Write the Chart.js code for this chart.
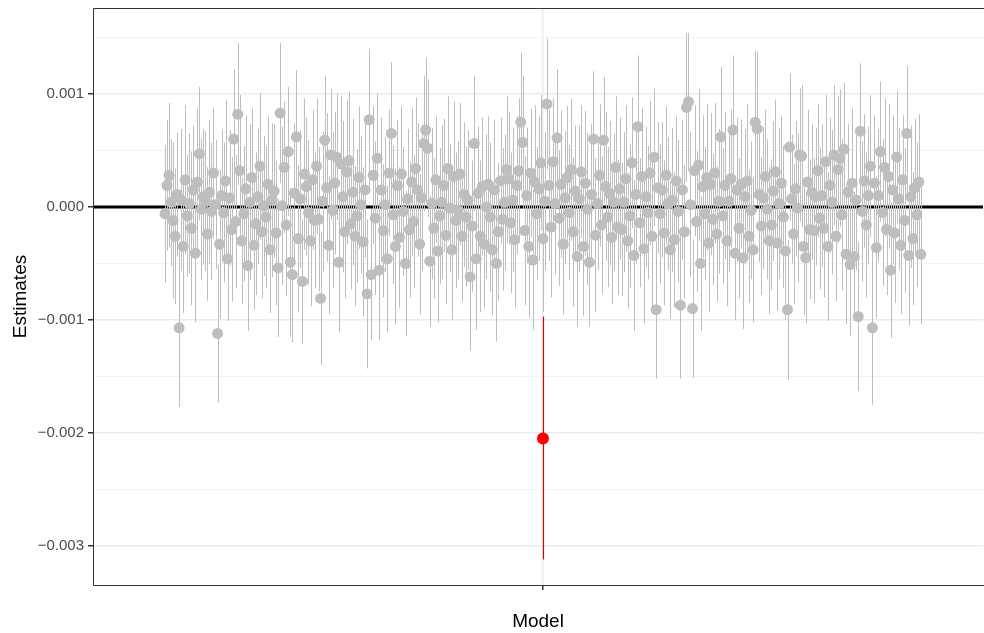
<!DOCTYPE html>
<html>
<head>
<meta charset="utf-8">
<script src="https://cdn.jsdelivr.net/npm/chart.js@4.4.0/dist/chart.umd.min.js"></script>
<style>
html, body { margin: 0; padding: 0; background: #fff; overflow: hidden; }
</style>
</head>
<body>
<canvas id="chart" width="984" height="633"></canvas>
<script>
// model estimates, in units of 1e-4
const UNIT = 1e-4;
const estimates = [
  -0.6, 1.9, 2.8, 0.4, -1.2, -2.6, 1.1, -10.7, 0.6, -3.5, 2.4, -0.8, 0.3, -1.9, 1.5, -4.1, 2.2, 4.7, -0.2, 0.9, 0.5, -2.4, 1.3, -0.4, 3.0,
  0.2, -11.2, -3.3, 1.0, -0.5, 2.3, -4.6, 0.8, -2.0, 6.0, -1.3, 8.2, 3.2, -3.0, -0.6, 1.6, -5.2, 0.4, 2.6, -3.4, -1.5, 0.9, 3.6, -2.2, 0.1,
  -0.9, 2.0, -3.8, 0.6, 1.4, -2.3, -5.4, 8.3, 0.1, 3.5, -1.6, 4.9, -4.9, -6.0, 1.2, 6.2, -2.8, 0.7, -6.6, 2.9, 1.8, -0.5, -3.0, 2.4, -1.2,
  3.6, -1.1, -8.1, 0.5, 5.9, 1.7, -3.4, 4.6, -0.3, 2.1, 4.4, -4.9, 3.8, 0.9, -2.2, 3.1, 4.1, -1.5, 1.3, -2.6, -0.8, 2.6, 0.2, -3.1, 1.5,
  -7.7, 7.7, -6.0, 2.8, -1.0, 4.3, -5.6, 1.5, -2.1, 0.2, -4.6, 3.0, 6.5, -0.7, -3.5, 1.9, -2.7, 2.9, -0.4, -5.0, 0.7, -2.0, 2.2, -1.3, 3.4,
  1.5, -3.3, 0.8, 5.6, 6.8, 5.2, -4.8, 0.3, -1.9, 2.4, -3.9, -0.8, 0.4, 1.9, -2.5, 3.4, -0.1, -3.8, 2.7, -1.2, -0.3, 2.9, -2.6, 1.1, -0.9,
  0.6, -6.2, -1.7, 5.6, -4.6, 1.2, -2.6, 1.8, -3.3, 0.0, 2.0, -0.9, -3.8, 1.5, -5.0, -2.2, 2.3, -1.1, 0.4, 3.3, 2.5, -1.4, 0.6, -2.9, 1.9,
  3.2, 7.5, 5.7, -2.1, 1.0, -3.5, 3.0, -4.7, 2.2, -0.6, 1.6, 3.9, -2.8, 0.5, 9.1, 1.9, -1.8, 4.0, 0.3, 6.1, -1.0, 2.0, -3.3, 0.8, 2.6,
  -0.5, 3.3, -2.2, 1.4, -4.4, 0.7, 3.1, -3.5, 2.1, -0.2, -4.9, 1.1, 6.0, -2.5, 0.3, 2.8, -1.6, 5.9, 1.8, -0.9, 1.2, -2.7, 0.4, 3.5, -1.8,
  1.6, -2.0, 0.4, 2.5, -3.0, -0.8, 3.9, -4.3, 1.1, 7.1, -1.4, 2.7, -3.7, 0.9, -0.5, 3.0, -2.6, 4.4, -9.1, 1.7, -0.6, 1.5, -2.3, 2.8, 0.3,
  -3.8, 0.6, -2.9, 2.3, -0.4, -8.7, 1.5, -2.2, 8.8, 9.3, 0.2, -9.0, 3.2, -1.3, 3.7, -5.0, 1.8, -0.6, 2.6, -3.2, 2.0, -1.1, 3.0, -2.4, 0.5,
  6.2, -0.8, 1.9, -3.0, 0.5, 2.5, 6.8, -4.1, 1.5, -1.9, 2.0, -4.5, 0.9, 2.3, -2.6, -0.3, -3.8, 7.5, 6.9, 1.1, -1.7, 0.8, 2.7, -0.2, -3.0,
  -1.6, 1.4, 3.1, -3.2, 0.3, 2.1, -0.9, -3.9, -9.1, 5.3, 0.7, -2.4, 1.6, -0.1, 4.6, 4.5, -3.5, -4.5, 2.2, -2.0, 1.3, -2.1, 0.9, 3.2, -1.0,
  1.0, -1.9, 4.0, -3.5, 1.9, 0.4, 4.6, -2.6, 3.3, 4.3, -0.7, 5.1, -4.2, 1.3, -5.1, 2.1, -4.4, 0.6, -9.7, 6.7, -0.4, 2.3, -1.6, 1.0, 3.6,
  -10.7, 2.1, -3.6, 1.0, 4.9, -0.5, 3.5, -2.0, 2.7, -5.6, 1.5, -2.3, 4.4, 0.7, -3.4, 2.4, -1.2, 6.5, -4.3, 0.9, -2.8, 1.7, -0.7, 2.2, -4.2
];
// half length of each interval, same units
const halfWidths = [
  6.1, 5.8, 6.4, 5.6, 6.9, 6.0, 5.5, 7.0, 6.3, 5.9, 6.6, 5.4, 6.2, 6.8, 5.7, 6.1, 6.5, 5.9, 6.3, 6.0, 6.2, 5.9, 6.4, 6.1, 5.8,
  5.7, 6.1, 6.6, 5.8, 6.2, 7.1, 5.5, 6.0, 6.4, 6.2, 5.9, 6.3, 6.7, 5.6, 6.0, 6.5, 5.8, 6.9, 6.1, 5.7, 6.3, 6.0, 6.5, 5.9, 6.2,
  6.3, 6.0, 5.6, 6.8, 5.9, 6.4, 6.1, 6.2, 7.0, 5.8, 6.3, 5.7, 6.6, 6.0, 6.2, 5.9, 6.5, 6.1, 5.5, 6.7, 6.1, 6.4, 5.8, 6.2, 6.0,
  6.0, 6.4, 5.9, 6.2, 5.7, 6.6, 6.1, 5.8, 6.9, 6.3, 5.6, 6.2, 6.0, 6.7, 5.9, 6.4, 6.1, 5.8, 6.5, 6.2, 5.9, 6.3, 6.1, 6.6, 6.0,
  6.6, 6.3, 5.8, 6.1, 6.8, 5.7, 6.2, 6.4, 5.9, 6.0, 6.5, 5.6, 6.3, 6.1, 6.9, 5.8, 6.2, 6.0, 5.7, 6.4, 6.2, 6.0, 6.5, 5.9, 6.3,
  5.9, 6.2, 6.5, 6.0, 6.4, 6.1, 5.8, 6.7, 6.2, 5.6, 6.3, 6.0, 6.8, 5.9, 6.1, 6.4, 5.7, 6.2, 6.6, 6.0, 6.1, 6.3, 5.8, 6.4, 6.2,
  6.2, 6.5, 5.8, 6.0, 6.3, 5.9, 6.7, 6.1, 5.7, 6.4, 6.0, 6.6, 5.8, 6.2, 6.9, 6.1, 5.6, 6.3, 6.0, 6.5, 5.9, 6.2, 6.4, 6.0, 6.1,
  6.4, 6.1, 5.9, 6.6, 6.0, 6.3, 5.7, 6.2, 6.8, 5.9, 6.4, 6.0, 6.5, 6.1, 5.8, 6.7, 6.2, 5.6, 6.3, 6.1, 6.0, 6.5, 6.2, 5.9, 6.3,
  6.0, 6.3, 6.6, 5.8, 6.2, 6.5, 5.9, 6.1, 6.4, 6.7, 5.7, 6.2, 6.0, 6.8, 5.9, 6.3, 6.1, 5.6, 6.6, 6.2, 6.4, 5.9, 6.1, 6.3, 6.0,
  6.3, 5.9, 6.2, 6.5, 6.0, 6.4, 5.8, 6.7, 6.1, 6.3, 5.7, 6.0, 6.6, 6.2, 5.9, 6.4, 6.8, 6.1, 6.1, 5.8, 6.2, 6.0, 6.4, 6.1, 5.9,
  6.1, 6.4, 6.0, 5.7, 6.3, 6.5, 6.2, 5.9, 6.6, 6.1, 6.4, 6.1, 5.8, 6.2, 6.7, 6.0, 6.3, 5.9, 6.5, 6.1, 6.3, 5.8, 6.2, 6.0, 6.4,
  6.2, 6.0, 6.5, 5.8, 6.3, 6.1, 6.6, 5.9, 6.4, 6.2, 5.7, 6.3, 6.0, 6.8, 5.9, 6.1, 6.4, 6.3, 6.8, 6.0, 6.1, 6.3, 5.9, 6.2, 6.5,
  5.8, 6.2, 6.4, 6.0, 6.7, 5.9, 6.3, 6.1, 6.2, 6.5, 5.7, 6.2, 6.0, 6.6, 5.9, 6.3, 6.1, 5.8, 6.4, 6.2, 6.0, 6.4, 6.1, 5.9, 6.3,
  6.3, 6.1, 5.9, 6.6, 6.0, 6.4, 6.2, 5.8, 6.5, 6.1, 6.7, 5.9, 6.2, 6.0, 6.3, 6.6, 5.7, 6.2, 6.6, 6.0, 6.2, 5.9, 6.4, 6.1, 6.3,
  6.8, 6.0, 6.3, 5.9, 6.2, 6.5, 6.1, 5.8, 6.4, 6.0, 6.6, 6.2, 5.9, 6.3, 6.1, 5.7, 6.4, 6.0, 6.2, 6.3, 5.9, 6.1, 6.4, 6.0, 6.2
];
// the highlighted model
const focalEstimate = -20.5;
const focalLow = -31.2;
const focalHigh = -9.7;

const yTickValues = [-0.003, -0.0025, -0.002, -0.0015, -0.001, -0.0005, 0, 0.0005, 0.001, 0.0015];
const xTickValues = [0];
const xTitle = 'Model';
const yTitle = 'Estimates';

// dodge width of the models around the single x category
const DODGE = 0.84;
const n = estimates.length;

const grayPoints = estimates.map((e, i) => ({
  x: -DODGE + 2 * DODGE * i / (n - 1),
  y: e * UNIT,
  lo: (e - halfWidths[i]) * UNIT,
  hi: (e + halfWidths[i]) * UNIT
}));
const redPoints = [{ x: 0, y: focalEstimate * UNIT, lo: focalLow * UNIT, hi: focalHigh * UNIT }];

const isMajor = v => Math.abs(v * 1000 - Math.round(v * 1000)) < 1e-6;

const errorBars = {
  id: 'errorBars',
  beforeDatasetsDraw(chart) {
    const { ctx, chartArea: a, scales: { x, y } } = chart;
    ctx.save();
    ctx.beginPath();
    ctx.rect(a.left, a.top, a.right - a.left, a.bottom - a.top);
    ctx.clip();
    // zero reference line
    const y0 = y.getPixelForValue(0);
    ctx.strokeStyle = '#000';
    ctx.lineWidth = 3;
    ctx.beginPath();
    ctx.moveTo(a.left, y0);
    ctx.lineTo(a.right, y0);
    ctx.stroke();
    // intervals, gray first then red
    const sets = chart.data.datasets.slice().reverse();
    sets.forEach(ds => {
      ctx.strokeStyle = ds.barColor;
      ctx.lineWidth = ds.barWidth;
      ds.data.forEach(p => {
        const px = Math.round(x.getPixelForValue(p.x)) + 0.5;
        ctx.beginPath();
        ctx.moveTo(px, y.getPixelForValue(p.lo));
        ctx.lineTo(px, y.getPixelForValue(p.hi));
        ctx.stroke();
      });
    });
    ctx.restore();
  },
  afterDraw(chart) {
    const { ctx, chartArea: a } = chart;
    ctx.save();
    ctx.strokeStyle = '#333333';
    ctx.lineWidth = 1;
    ctx.beginPath();
    ctx.moveTo(a.right + 5, a.top + 0.5);
    ctx.lineTo(a.left + 0.5, a.top + 0.5);
    ctx.lineTo(a.left + 0.5, a.bottom + 0.5);
    ctx.lineTo(a.right + 5, a.bottom + 0.5);
    ctx.stroke();
    ctx.restore();
  }
};

const font = 'Liberation Sans, Arial, Helvetica, sans-serif';

new Chart(document.getElementById('chart'), {
  type: 'scatter',
  data: {
    datasets: [
      {
        label: 'focal',
        data: redPoints,
        pointRadius: 6,
        pointBackgroundColor: '#FF0000',
        pointBorderWidth: 0,
        barColor: '#E00000',
        barWidth: 1.2
      },
      {
        label: 'models',
        data: grayPoints,
        pointRadius: 5.5,
        pointBackgroundColor: '#BEBEBE',
        pointBorderWidth: 0,
        barColor: '#BEBEBE',
        barWidth: 1
      }
    ]
  },
  options: {
    responsive: false,
    animation: false,
    devicePixelRatio: 1,
    layout: { autoPadding: false, padding: { left: 0, top: 8, right: 1, bottom: 0 } },
    plugins: { legend: { display: false }, tooltip: { enabled: false } },
    scales: {
      x: {
        type: 'linear',
        min: -1,
        max: 0.978,
        afterBuildTicks: scale => { scale.ticks = xTickValues.map(v => ({ value: v })); },
        afterFit: scale => {
          scale.height = 48;
          scale.paddingLeft = 0;
          scale.paddingRight = 0;
        },
        ticks: { callback: () => '', padding: 0 },
        grid: { color: '#EBEBEB', lineWidth: 1.5, tickLength: 5, tickColor: '#333333' },
        border: { display: false },
        title: {
          display: true,
          text: xTitle,
          color: '#000',
          font: { family: font, size: 19 },
          padding: { top: 0, bottom: 0 }
        }
      },
      y: {
        type: 'linear',
        min: -0.003346,
        max: 0.00176,
        afterBuildTicks: scale => { scale.ticks = yTickValues.map(v => ({ value: v })); },
        afterFit: scale => {
          scale.width = 93;
          scale.paddingTop = 0;
          scale.paddingBottom = 0;
        },
        ticks: {
          color: '#4D4D4D',
          font: { family: font, size: 15 },
          padding: 4,
          callback: v => isMajor(v) ? (v < 0 ? '\u2212' : '') + Math.abs(v).toFixed(3) : ''
        },
        grid: {
          color: c => isMajor(c.tick.value) ? '#EBEBEB' : '#F3F3F3',
          lineWidth: c => isMajor(c.tick.value) ? 1.5 : 1,
          tickLength: 5,
          tickColor: c => isMajor(c.tick.value) ? '#333333' : 'rgba(0,0,0,0)'
        },
        border: { display: false },
        title: {
          display: true,
          text: yTitle,
          color: '#000',
          font: { family: font, size: 19 },
          padding: { top: 9, bottom: 0 }
        }
      }
    }
  },
  plugins: [errorBars]
});
</script>
</body>
</html>
